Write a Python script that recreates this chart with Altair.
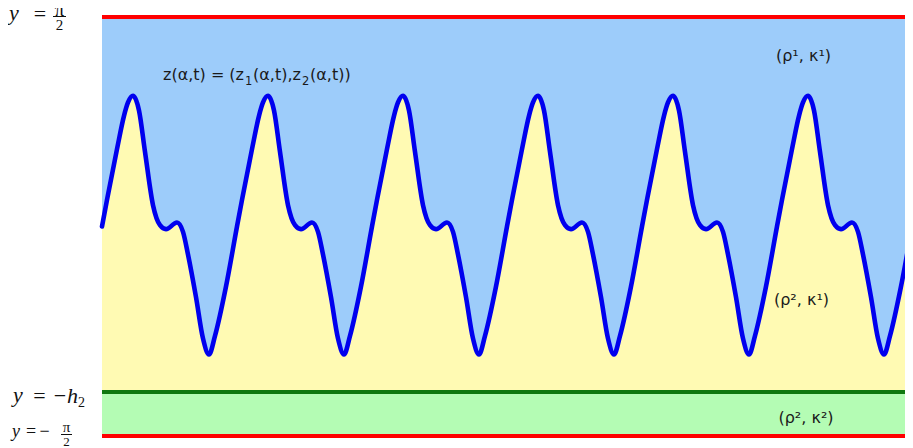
import math
import altair as alt
import pandas as pd

# ---------------- data ----------------
HALF_PI = math.pi / 2
H2 = 1.24  # depth of the lower interface  y = -h2

# interface curve z(alpha,t): horizontal position (plot units) and height
alpha = [0, 5, 15, 22, 26,
         31, 37, 43, 51, 58, 64, 75, 81, 86, 94, 101, 107, 113, 124, 135, 140, 150, 157, 161,
         166, 172, 178, 186, 193, 199, 210, 216, 221, 229, 236, 242, 248, 259, 270, 275, 285, 292, 296,
         301, 307, 313, 321, 328, 334, 345, 351, 356, 364, 371, 377, 383, 394, 405, 410, 420, 427, 431,
         436, 442, 448, 456, 463, 469, 480, 486, 491, 499, 506, 512, 518, 529, 540, 545, 555, 562, 566,
         571, 577, 583, 591, 598, 604, 615, 621, 626, 634, 641, 647, 653, 664, 675, 680, 690, 697, 701,
         706, 712, 718, 726, 733, 739, 750, 756, 761, 769, 776, 782, 788, 799, 811]
z = [0.00, 0.20, 0.58, 0.83, 0.93,
     0.98, 0.87, 0.56, 0.16, 0.01, -0.02, 0.03, -0.04, -0.21, -0.53, -0.84, -0.96, -0.82, -0.45, 0.00, 0.20, 0.58, 0.83, 0.93,
     0.98, 0.87, 0.56, 0.16, 0.01, -0.02, 0.03, -0.04, -0.21, -0.53, -0.84, -0.96, -0.82, -0.45, 0.00, 0.20, 0.58, 0.83, 0.93,
     0.98, 0.87, 0.56, 0.16, 0.01, -0.02, 0.03, -0.04, -0.21, -0.53, -0.84, -0.96, -0.82, -0.45, 0.00, 0.20, 0.58, 0.83, 0.93,
     0.98, 0.87, 0.56, 0.16, 0.01, -0.02, 0.03, -0.04, -0.21, -0.53, -0.84, -0.96, -0.82, -0.45, 0.00, 0.20, 0.58, 0.83, 0.93,
     0.98, 0.87, 0.56, 0.16, 0.01, -0.02, 0.03, -0.04, -0.21, -0.53, -0.84, -0.96, -0.82, -0.45, 0.00, 0.20, 0.58, 0.83, 0.93,
     0.98, 0.87, 0.56, 0.16, 0.01, -0.02, 0.03, -0.04, -0.21, -0.53, -0.84, -0.96, -0.82, -0.45, 0.04]

# background layers (bounded by the walls and the lower interface)
region_names = ["upper", "bottom"]
region_lo = [-H2, -HALF_PI]
region_hi = [HALF_PI, -H2]

# horizontal boundaries
line_names = ["top wall", "interface", "bottom wall"]
line_levels = [HALF_PI, -H2, -HALF_PI]

# texts
curve_label_parts = ["z(α,t) = (z", "1", "(α,t),z", "2", "(α,t))"]
region_labels = ["(ρ¹, κ¹)", "(ρ², κ¹)", "(ρ², κ²)"]

# ---------------- chart ----------------
XMIN, XMAX = alpha[0], alpha[-1]
xs = alt.Scale(domain=[XMIN, XMAX], nice=False, zero=False, padding=0)
ys = alt.Scale(domain=[-HALF_PI, HALF_PI], nice=False, zero=False, padding=0)

curve_df = pd.DataFrame({"alpha": alpha, "z": z})
reg_df = pd.DataFrame({"region": region_names, "lo": region_lo, "hi": region_hi})
line_df = pd.DataFrame({"name": line_names, "level": line_levels})

regions = alt.Chart(reg_df).mark_rect().encode(
    x=alt.datum(XMIN, scale=xs, axis=None),
    x2=alt.datum(XMAX),
    y=alt.Y("lo:Q", scale=ys, axis=None),
    y2="hi:Q",
    color=alt.Color("region:N", scale=alt.Scale(domain=region_names,
                                                range=["#9dccfa", "#b4fcb4"]), legend=None),
)

lower = alt.Chart(curve_df).mark_area(interpolate="monotone", color="#fffab3").encode(
    x=alt.X("alpha:Q", scale=xs, axis=None),
    y=alt.Y("z:Q", scale=ys, axis=None),
    y2=alt.datum(-H2),
)

walls = alt.Chart(line_df).mark_rule(strokeWidth=4).encode(
    y=alt.Y("level:Q", scale=ys, axis=None),
    color=alt.Color("name:N", scale=alt.Scale(domain=line_names,
                                              range=["#ff0000", "#0f780f", "#ff0000"]), legend=None),
)

curve = alt.Chart(curve_df).mark_line(interpolate="monotone", color="#0000ee",
                                      strokeWidth=4.6, strokeCap="round").encode(
    x=alt.X("alpha:Q", scale=xs, axis=None),
    y=alt.Y("z:Q", scale=ys, axis=None),
)


def label(txt, x, y, size, font="DejaVu Sans", style="normal", align="left", color="#1a1a1a"):
    return alt.Chart(pd.DataFrame({"t": [txt]})).mark_text(
        align=align, baseline="alphabetic", fontSize=size, font=font,
        fontStyle=style, color=color).encode(
        x=alt.value(x), y=alt.value(y), text="t:N")


def bar(x1, x2, y):
    return alt.Chart(pd.DataFrame({"t": [0]})).mark_rule(color="#111111", strokeWidth=1).encode(
        x=alt.value(x1), x2=alt.value(x2), y=alt.value(y))


SERIF = "Liberation Serif"
p = curve_label_parts
texts = [
    label(p[0], 61, 62.5, 16),
    label(p[1], 143, 67.5, 11.5),
    label(p[2], 151, 62.5, 16),
    label(p[3], 200, 67.5, 11.5),
    label(p[4], 208, 62.5, 16),
    label(region_labels[0], 701.5, 44, 16, align="center"),
    label(region_labels[1], 699.5, 288, 16, align="center"),
    label(region_labels[2], 704, 406, 16, align="center"),
    # y = pi/2
    label("y", -93, 3, 22, font=SERIF, style="italic", color="#111111"),
    label("=", -62, 4, 22, font=SERIF, align="center", color="#111111"),
    label("π", -42.5, -1.5, 19, font=SERIF, align="center", color="#111111"),
    bar(-49, -36, -0.5),
    label("2", -42.5, 13, 15, font=SERIF, align="center", color="#111111"),
    # y = -h2
    label("y", -89, 385, 22, font=SERIF, style="italic", color="#111111"),
    label("=", -62.5, 386, 22, font=SERIF, align="center", color="#111111"),
    label("−", -42, 386, 22, font=SERIF, align="center", color="#111111"),
    label("h", -35, 386, 22, font=SERIF, style="italic", color="#111111"),
    label("2", -24, 390, 14, font=SERIF, color="#111111"),
    # y = -pi/2
    label("y", -90, 420, 18, font=SERIF, style="italic", color="#111111"),
    label("=", -71, 420, 18, font=SERIF, align="center", color="#111111"),
    label("−", -57.5, 420, 18, font=SERIF, align="center", color="#111111"),
    label("π", -35.5, 415, 15, font=SERIF, align="center", color="#111111"),
    bar(-41, -30, 417.5),
    label("2", -35.5, 429, 13, font=SERIF, align="center", color="#111111"),
]

chart = alt.layer(regions, lower, walls, curve, *texts).resolve_scale(color="independent").properties(
    width=811,
    height=419,
    padding={"left": 94, "top": 9, "right": -8, "bottom": 12},
    autosize=alt.AutoSizeParams(type="none"),
).configure_view(stroke=None)

chart.save("out.html", embed_options={"renderer": "svg", "actions": False})
